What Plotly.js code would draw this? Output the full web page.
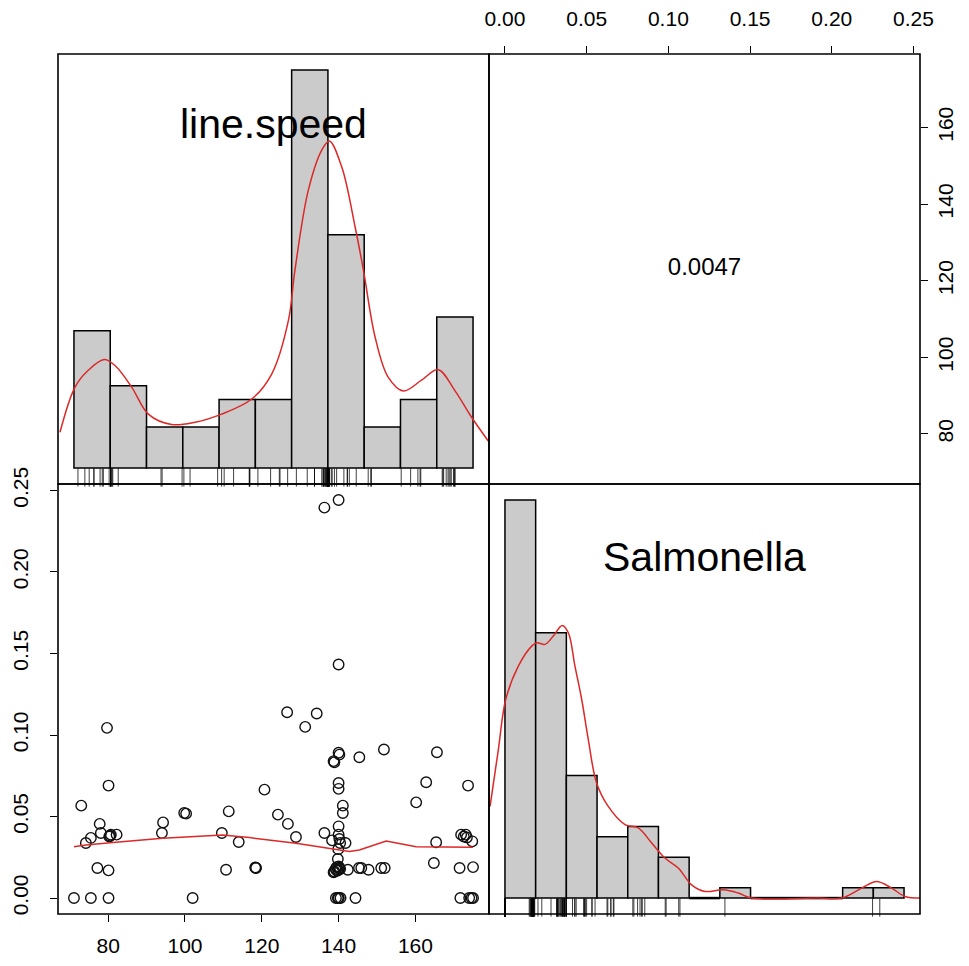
<!DOCTYPE html>
<html>
<head>
<meta charset="utf-8">
<script src="https://cdn.plot.ly/plotly-3.0.1.min.js"></script>
<style>html,body{margin:0;padding:0;background:#fff;}#plot{width:969px;height:966px;}</style>
</head>
<body>
<div id="plot"></div>
<script>
// ---- data ----
const lineSpeed = [
  71.1,75.5,80.1,102.0,139.3,140.0,140.5,144.4,171.7,174.0,175.0,140.0,174.6,139.8,
  77.2,80.1,110.7,118.3,118.5,138.9,139.2,139.5,140.0,140.4,142.4,145.3,145.9,147.8,151.1,152.0,171.5,175.0,
  139.6,139.9,140.1,138.7,140.2,118.4,
  74.2,75.5,78.1,80.3,80.7,82.2,94.0,109.6,114.0,128.9,136.3,138.3,140.0,140.4,141.8,165.4,164.8,171.9,172.6,173.1,174.8,
  140.2,139.8,173.4,80.5,139.9,
  77.8,94.3,126.8,124.2,111.4,99.8,100.3,140.0,141.1,141.1,73.0,160.2,
  80.1,120.7,140.0,140.0,162.8,173.7,
  140.0,140.2,138.9,138.7,145.4,151.8,165.6,
  79.7,126.6,134.3,131.3,
  140.0,136.3,140.0
];
const salmonella = [
  0,0,0,0,0,0,0,0,0,0,0,0,0,0,
  0.0184,0.0170,0.0174,0.0188,0.0184,0.0163,0.0178,0.0190,0.0194,0.0178,0.0174,0.0184,0.0184,0.0174,0.0184,0.0184,0.0184,0.0190,
  0.0167,0.0172,0.0182,0.0158,0.0186,0.0186,
  0.0338,0.0369,0.0399,0.0378,0.0389,0.0389,0.0399,0.0399,0.0344,0.0375,0.0399,0.0354,0.0389,0.0338,0.0338,0.0342,0.0215,0.0389,0.0378,0.0389,0.0348,
  0.0362,0.0240,0.0372,0.0382,0.0300,
  0.0455,0.0464,0.0455,0.0512,0.0532,0.0522,0.0518,0.0440,0.0522,0.0567,0.0567,0.0587,
  0.0690,0.0665,0.0670,0.0706,0.0710,0.0690,
  0.0891,0.0880,0.0833,0.0840,0.0864,0.0911,0.0894,
  0.1044,0.1140,0.1132,0.1050,
  0.1433,0.2395,0.2442
];
// lowess smoother of Salmonella on line.speed
const lowessX = [71.1,74.2,82.0,94.2,109.8,116.8,128.9,139.4,142.8,145.4,152.4,160.2,175.0];
const lowessY = [0.0315,0.0326,0.0342,0.0367,0.0387,0.0371,0.0336,0.0295,0.0285,0.0295,0.0350,0.0315,0.0311];

// histogram of line.speed
const lsBreaks = [70,80,90,100,110,120,130,140,150,160,170,180];
const lsCounts = [10,6,3,3,5,5,29,17,3,5,11];
// density of line.speed (in count units of the histogram)
const lsDensX = [66.15,70.3,73.95,78.36,81.3,85.9,90.5,96.9,103.4,110.7,119.0,124.5,129.1,130.9,134.6,138.3,140.4,143.8,147.5,149.8,153.0,156.6,160.8,165.8,170.4,175.0,179.6,184.2];
const lsDensY = [2.61,5.9,7.12,7.9,7.47,5.9,3.93,3.17,3.34,3.93,5.03,6.85,10.74,14.4,20.24,23.16,23.83,21.94,17.56,14.4,9.55,6.63,5.62,6.4,7.17,5.64,3.70,1.97];

// histogram of Salmonella
const salBreaks = [0,0.02,0.04,0.06,0.08,0.10,0.12,0.14,0.16,0.18,0.20,0.22,0.24,0.26];
const salCounts = [39,26,12,6,7,4,0,1,0,0,0,1,1];
// density of Salmonella (in count units of the histogram)
const salDensX = [-0.0097,-0.0043,0.0005,0.0087,0.0174,0.0207,0.0261,0.0315,0.0373,0.0413,0.0456,0.0500,0.0543,0.0597,0.0673,0.0782,0.0868,0.0956,0.1042,0.1129,0.1216,0.1303,0.1422,0.1520,0.1607,0.2041,0.2193,0.2324,0.2421,0.2519,0.2606,0.2714];
const salDensY = [8.98,14.55,19.45,22.72,24.68,25.01,24.85,25.66,26.71,25.99,22.72,19.45,15.53,11.28,8.98,7.19,6.87,5.39,3.92,2.94,1.30,0.65,0.81,0.49,0.0,0,0,0.98,1.63,0.98,0.16,0];

const corText = "0.0047";
const varNames = ["line.speed","Salmonella"];
const lsTicks = [80,100,120,140,160];
const salTicks = [0,0.05,0.10,0.15,0.20,0.25];
const salTickText = ["0.00","0.05","0.10","0.15","0.20","0.25"];

// ---- helpers ----
function mids(b){const m=[];for(let i=0;i<b.length-1;i++)m.push((b[i]+b[i+1])/2);return m;}
function widths(b){const w=[];for(let i=0;i<b.length-1;i++)w.push(b[i+1]-b[i]);return w;}
function rng(lo,hi){const d=(hi-lo)*0.04;return [lo-d,hi+d];}
// empty bins are drawn by R as flat outlines on the base line
function emptyBins(b,c){const x=[],y=[];for(let i=0;i<c.length;i++){if(c[i]===0){x.push(b[i],b[i+1],null);y.push(0,0,null);}}return {x,y};}

const W=969,H=966;
const px=v=>v/W, py=v=>(H-v)/H;
const xL=[px(58),px(489)], xR=[px(489),px(920)];
const yT=[py(484),py(54)], yB=[py(914),py(484)];

const FONT="Liberation Sans, Arial, Helvetica, sans-serif";
const RED="rgb(221,40,40)";
const lsRange=rng(Math.min(...lineSpeed),Math.max(...lineSpeed));
const salRange=rng(Math.min(...salmonella),Math.max(...salmonella));
const lsHistX=rng(lsBreaks[0],lsBreaks[lsBreaks.length-1]);
const lsHistY=rng(0,Math.max(...lsCounts));
const salHistX=rng(salBreaks[0],salBreaks[salBreaks.length-1]);
const salHistY=rng(0,Math.max(...salCounts));
const lsEmpty=emptyBins(lsBreaks,lsCounts), salEmpty=emptyBins(salBreaks,salCounts);

const traces=[
  {type:"scatter",mode:"markers",x:lineSpeed,y:salmonella,xaxis:"x",yaxis:"y",
   marker:{symbol:"circle-open",size:10.5,color:"#111",line:{width:1.4,color:"#111"}},hoverinfo:"skip"},
  {type:"scatter",mode:"lines",x:lowessX,y:lowessY,xaxis:"x",yaxis:"y",line:{color:RED,width:1.5},hoverinfo:"skip"},
  // correlation text lives in the upper-right panel
  {type:"scatter",mode:"text",x:[(salRange[0]+salRange[1])/2],y:[(lsRange[0]+lsRange[1])/2],text:[corText],xaxis:"x2",yaxis:"y2",
   textposition:"middle center",textfont:{family:FONT,size:24,color:"#000"},hoverinfo:"skip"},
  {type:"bar",x:mids(lsBreaks),y:lsCounts,width:widths(lsBreaks),xaxis:"x3",yaxis:"y3",
   marker:{color:"#cbcbcb",line:{color:"#000",width:1.5}},hoverinfo:"skip"},
  {type:"scatter",mode:"lines",x:lsEmpty.x,y:lsEmpty.y,xaxis:"x3",yaxis:"y3",line:{color:"#000",width:2.5},hoverinfo:"skip"},
  {type:"scatter",mode:"lines",x:lsDensX,y:lsDensY,xaxis:"x3",yaxis:"y3",line:{color:RED,width:1.5,shape:"spline"},hoverinfo:"skip"},
  {type:"scatter",mode:"markers",x:lineSpeed,y:lineSpeed.map(()=>lsHistY[0]+0.015*(lsHistY[1]-lsHistY[0])),xaxis:"x3",yaxis:"y3",
   marker:{symbol:"line-ns-open",size:13,color:"rgba(0,0,0,0.75)",line:{width:1,color:"rgba(0,0,0,0.75)"}},cliponaxis:false,hoverinfo:"skip"},
  {type:"bar",x:mids(salBreaks),y:salCounts,width:widths(salBreaks),xaxis:"x4",yaxis:"y4",
   marker:{color:"#cbcbcb",line:{color:"#000",width:1.5}},hoverinfo:"skip"},
  {type:"scatter",mode:"lines",x:salEmpty.x,y:salEmpty.y,xaxis:"x4",yaxis:"y4",line:{color:"#000",width:2.5},hoverinfo:"skip"},
  {type:"scatter",mode:"lines",x:salDensX,y:salDensY,xaxis:"x4",yaxis:"y4",line:{color:RED,width:1.5,shape:"spline"},hoverinfo:"skip"},
  {type:"scatter",mode:"markers",x:salmonella,y:salmonella.map(()=>salHistY[0]+0.015*(salHistY[1]-salHistY[0])),xaxis:"x4",yaxis:"y4",
   marker:{symbol:"line-ns-open",size:13,color:"rgba(0,0,0,0.75)",line:{width:1,color:"rgba(0,0,0,0.75)"}},cliponaxis:false,hoverinfo:"skip"}
];

const tickStyle={ticks:"outside",ticklen:7,tickwidth:1,tickcolor:"#000",showgrid:false,zeroline:false,showline:false,
  tickfont:{family:FONT,size:21,color:"#000"}};
const hidden={visible:false,showgrid:false,zeroline:false,fixedrange:true};

const layout={
  width:W,height:H,margin:{l:0,r:0,t:0,b:0},paper_bgcolor:"#fff",plot_bgcolor:"rgba(0,0,0,0)",showlegend:false,
  font:{family:FONT,color:"#000"},
  xaxis:Object.assign({},tickStyle,{domain:xL,range:lsRange,anchor:"y",side:"bottom",tickvals:lsTicks,ticklabelstandoff:6}),
  yaxis:Object.assign({},tickStyle,{domain:yB,range:salRange,anchor:"x",side:"left",tickvals:salTicks,ticktext:salTickText,tickangle:-90,ticklabelstandoff:14}),
  xaxis2:Object.assign({},tickStyle,{domain:xR,range:salRange,anchor:"y2",side:"top",tickvals:salTicks,ticktext:salTickText,ticklabelstandoff:12}),
  yaxis2:Object.assign({},tickStyle,{domain:yT,range:lsRange,anchor:"x2",side:"right",tickvals:lsTicks,tickangle:-90,ticklabelstandoff:0}),
  xaxis3:Object.assign({},hidden,{domain:xL,range:lsHistX,anchor:"y3"}),
  yaxis3:Object.assign({},hidden,{domain:yT,range:lsHistY,anchor:"x3"}),
  xaxis4:Object.assign({},hidden,{domain:xR,range:salHistX,anchor:"y4"}),
  yaxis4:Object.assign({},hidden,{domain:yB,range:salHistY,anchor:"x4"}),
  bargap:0,
  shapes:[
    {type:"rect",xref:"paper",yref:"paper",x0:xL[0],x1:xL[1],y0:yT[0],y1:yT[1],line:{color:"#000",width:1.6}},
    {type:"rect",xref:"paper",yref:"paper",x0:xR[0],x1:xR[1],y0:yT[0],y1:yT[1],line:{color:"#000",width:1.6}},
    {type:"rect",xref:"paper",yref:"paper",x0:xL[0],x1:xL[1],y0:yB[0],y1:yB[1],line:{color:"#000",width:1.6}},
    {type:"rect",xref:"paper",yref:"paper",x0:xR[0],x1:xR[1],y0:yB[0],y1:yB[1],line:{color:"#000",width:1.6}}
  ],
  annotations:[
    {text:varNames[0],xref:"paper",yref:"paper",x:(xL[0]+xL[1])/2,y:py(124),xanchor:"center",yanchor:"middle",showarrow:false,font:{family:FONT,size:41,color:"#000"}},
    {text:varNames[1],xref:"paper",yref:"paper",x:(xR[0]+xR[1])/2,y:py(557),xanchor:"center",yanchor:"middle",showarrow:false,font:{family:FONT,size:41,color:"#000"}}
  ]
};
Plotly.newPlot("plot",traces,layout,{staticPlot:true,displayModeBar:false});
</script>
</body>
</html>
